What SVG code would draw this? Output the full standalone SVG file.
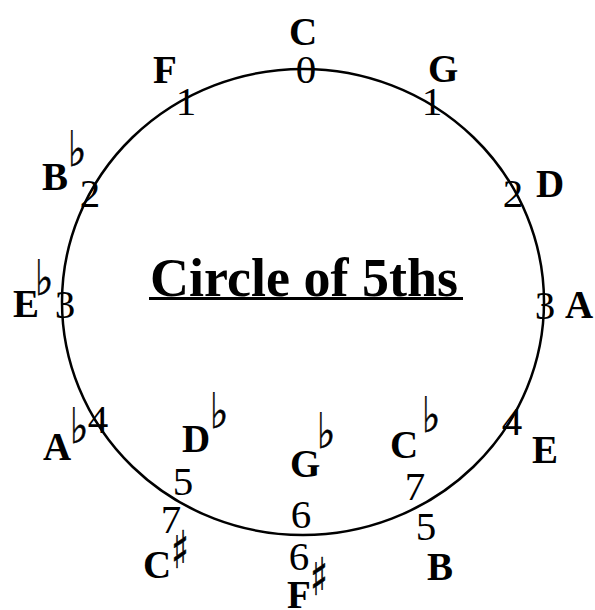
<svg xmlns="http://www.w3.org/2000/svg" width="595" height="610" viewBox="0 0 595 610">
<style>
.k{font-family:"Liberation Serif","Times New Roman",serif;font-weight:bold;font-size:39px;fill:#000}
.n{font-family:"Liberation Serif","Times New Roman",serif;font-size:41px;fill:#000;text-anchor:middle}
.fl{font-family:"DejaVu Sans",sans-serif;font-size:49px;fill:#000;stroke:#000;stroke-width:0.6}
.sh{font-family:"DejaVu Sans",sans-serif;font-size:52px;fill:#000;stroke:#000;stroke-width:0.6}
.t{font-family:"Liberation Serif","Times New Roman",serif;font-weight:bold;font-size:54px;fill:#000}
</style>
<rect width="595" height="610" fill="#fff"/>
<g id="circle"><ellipse cx="303" cy="302" rx="241" ry="233" fill="none" stroke="#000" stroke-width="2.5"/></g>
<g id="title"><text class="t" x="150" y="296">Circle of 5ths</text><rect x="149" y="297" width="314" height="3" fill="#000"/></g>
<g id="key-C"><text class="k" x="289" y="45">C</text><text class="n" x="306" y="83">0</text></g>
<g id="key-G"><text class="k" x="428" y="82">G</text><text class="n" x="432" y="115">1</text></g>
<g id="key-D"><text class="k" x="536" y="197">D</text><text class="n" x="513" y="207">2</text></g>
<g id="key-A"><text class="k" x="565" y="318">A</text><text class="n" x="545" y="319">3</text></g>
<g id="key-E"><text class="k" x="532" y="463">E</text><text class="n" x="512" y="435">4</text></g>
<g id="key-B"><text class="k" x="427" y="580">B</text><text class="n" x="426" y="540">5</text></g>
<g id="key-Fsharp"><text class="k" x="287" y="608">F</text><text class="sh" transform="translate(310,595) scale(0.72,1)">♯</text><text class="n" x="299" y="570">6</text></g>
<g id="key-Gflat"><text class="k" x="290" y="477">G</text><text class="fl" transform="translate(317,448) scale(0.8,1)">♭</text><text class="n" x="301" y="528">6</text></g>
<g id="key-Csharp"><text class="k" x="143" y="578">C</text><text class="sh" transform="translate(171,568) scale(0.72,1)">♯</text><text class="n" x="171" y="533">7</text></g>
<g id="key-Cflat"><text class="k" x="390" y="458">C</text><text class="fl" transform="translate(422,432) scale(0.8,1)">♭</text><text class="n" x="415" y="500">7</text></g>
<g id="key-Dflat"><text class="k" x="182" y="452">D</text><text class="fl" transform="translate(210,428) scale(0.8,1)">♭</text><text class="n" x="183" y="495">5</text></g>
<g id="key-Aflat"><text class="k" x="43" y="460">A</text><text class="fl" transform="translate(70,443) scale(0.8,1)">♭</text><text class="n" x="98" y="433">4</text></g>
<g id="key-Eflat"><text class="k" x="13" y="317">E</text><text class="fl" transform="translate(35,295) scale(0.8,1)">♭</text><text class="n" x="65" y="318">3</text></g>
<g id="key-Bflat"><text class="k" x="42" y="190">B</text><text class="fl" transform="translate(68,166) scale(0.8,1)">♭</text><text class="n" x="90" y="207">2</text></g>
<g id="key-F"><text class="k" x="153" y="83">F</text><text class="n" x="186" y="115">1</text></g>
</svg>
